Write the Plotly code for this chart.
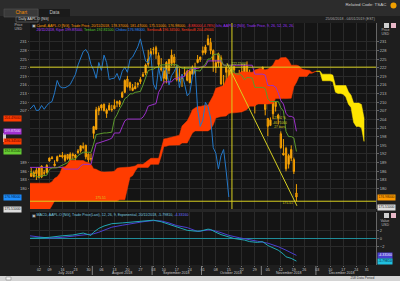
import plotly.graph_objects as go
import pandas as pd

W, H = 400, 281

# ---------------- data ----------------
holidays = ["2018-07-04", "2018-09-03", "2018-11-22", "2018-12-25", "2019-01-01"]
days = [d for d in pd.bdate_range("2018-06-25", "2019-01-04")
        if d.strftime("%Y-%m-%d") not in holidays]

opens = [183.40, 182.99, 185.23, 184.10, 186.29, 183.82, 187.79, 185.26, 185.42, 189.50,
         190.71, 188.50, 189.53, 191.08, 191.52, 189.75, 191.78, 189.69, 191.78, 190.68,
         192.45, 193.06, 194.61, 194.99, 191.90, 190.30, 199.13, 200.58, 207.03, 208.00,
         209.32, 206.05, 207.28, 207.36, 207.70, 210.16, 209.22, 211.75, 213.44, 218.10,
         216.80, 214.10, 214.65, 216.60, 217.15, 219.01, 220.15, 223.25, 226.51, 228.41,
         228.99, 226.23, 221.85, 220.95, 218.01, 224.94, 223.52, 225.75, 222.15, 217.79,
         218.50, 220.24, 220.78, 216.82, 219.75, 221.00, 223.82, 224.79, 227.95, 227.25,
         230.05, 230.78, 227.96, 222.21, 223.64, 225.46, 214.52, 220.42, 221.16, 218.93,
         222.30, 217.86, 218.06, 219.79, 215.83, 222.60, 217.71, 215.90, 219.19, 211.15,
         216.88, 219.05, 209.55, 204.30, 201.92, 205.97, 209.98, 205.55, 199.00, 191.63,
         193.90, 188.39, 190.50, 190.00, 178.37]
highs = [184.92, 186.53, 187.28, 186.21, 187.19, 187.30, 187.95, 186.41, 188.43, 190.68,
         191.28, 189.78, 191.41, 191.84, 192.65, 191.87, 191.80, 192.55, 192.43, 191.96,
         193.66, 194.85, 195.96, 195.19, 192.20, 192.14, 201.76, 208.38, 208.74, 209.25,
         209.50, 207.81, 209.78, 209.10, 210.95, 210.56, 210.74, 213.81, 217.95, 219.18,
         217.19, 216.36, 217.05, 216.90, 218.74, 220.54, 223.49, 228.26, 228.87, 229.18,
         229.67, 227.35, 225.37, 221.85, 224.30, 225.00, 228.35, 226.84, 222.95, 221.85,
         219.62, 222.28, 221.36, 221.26, 222.82, 223.75, 226.44, 225.84, 229.42, 230.00,
         233.47, 232.35, 228.41, 224.80, 227.27, 226.35, 219.50, 222.88, 221.83, 222.99,
         222.64, 219.74, 221.26, 223.36, 223.25, 224.23, 221.38, 220.19, 219.69, 215.18,
         220.45, 222.36, 213.65, 204.39, 204.72, 210.06, 210.12, 206.01, 199.85, 197.18,
         194.48, 191.97, 194.97, 190.70, 181.47]
lows = [180.73, 182.54, 184.03, 183.80, 182.91, 183.42, 183.54, 184.28, 185.20, 189.30,
        190.18, 187.61, 189.31, 190.90, 190.42, 189.20, 189.93, 189.69, 190.17, 189.56,
        192.05, 192.43, 193.61, 190.10, 189.07, 189.34, 197.31, 200.35, 205.48, 207.07,
        206.76, 204.52, 207.20, 206.67, 207.70, 208.26, 208.33, 211.47, 213.16, 215.11,
        214.03, 213.84, 214.60, 215.11, 216.33, 218.92, 219.41, 222.40, 226.00, 226.63,
        225.10, 221.30, 220.71, 216.47, 216.56, 219.84, 222.57, 222.52, 217.27, 217.12,
        215.30, 219.15, 217.29, 216.63, 219.70, 219.76, 223.54, 224.02, 226.35, 226.63,
        229.78, 226.73, 220.58, 220.20, 222.25, 216.05, 212.32, 216.84, 217.27, 216.76,
        219.34, 213.00, 217.43, 218.94, 214.70, 214.54, 216.75, 212.67, 206.09, 209.27,
        216.62, 216.81, 205.43, 198.17, 201.69, 204.13, 206.75, 202.25, 193.79, 191.45,
        185.93, 186.90, 189.46, 184.99, 175.51]
closes = [182.17, 184.43, 184.16, 185.50, 185.11, 187.18, 183.92, 185.40, 187.97, 190.58,
          190.35, 187.88, 191.03, 191.33, 190.91, 191.45, 190.40, 191.88, 191.44, 191.61,
          193.00, 194.82, 194.21, 190.98, 189.91, 190.29, 201.50, 207.39, 207.99, 209.07,
          207.11, 207.25, 208.88, 207.53, 208.87, 209.75, 210.24, 213.32, 217.58, 215.46,
          215.04, 215.05, 215.49, 216.16, 217.94, 219.70, 222.98, 225.03, 227.63, 228.36,
          226.87, 223.10, 221.30, 218.33, 223.85, 221.07, 226.41, 223.84, 217.88, 218.24,
          218.37, 220.03, 217.66, 220.79, 222.19, 220.42, 224.95, 225.74, 227.26, 229.28,
          232.07, 227.99, 224.29, 223.77, 226.87, 216.36, 214.45, 222.11, 217.36, 222.15,
          221.19, 216.02, 219.31, 220.65, 222.73, 215.09, 219.80, 216.30, 212.24, 213.30,
          218.86, 222.22, 207.48, 201.59, 203.77, 209.95, 208.49, 204.47, 194.17, 192.23,
          186.80, 191.41, 193.53, 185.86, 176.98]

tenkan = [186.80, 186.15, 185.45, 184.98, 184.00, 184.00, 184.34, 184.34, 184.58, 186.61,
          187.10, 187.10, 187.16, 187.63, 188.10, 188.47, 188.93, 190.13, 190.13, 190.13,
          191.43, 192.03, 192.58, 192.58, 192.52, 192.52, 195.42, 198.73, 198.91, 199.16,
          199.29, 199.29, 199.43, 199.56, 204.13, 205.65, 207.74, 209.17, 211.24, 211.85,
          212.93, 212.93, 213.44, 213.72, 213.76, 216.01, 218.33, 221.05, 221.36, 221.51,
          222.14, 222.39, 223.00, 223.07, 223.07, 223.07, 223.07, 223.07, 223.07, 222.41,
          221.83, 221.83, 221.83, 221.83, 221.83, 221.07, 220.87, 220.87, 222.36, 223.32,
          225.05, 225.05, 226.59, 226.62, 226.84, 224.76, 222.90, 222.90, 222.90, 222.34,
          220.37, 219.80, 219.80, 219.34, 217.84, 218.62, 218.62, 218.45, 215.16, 215.16,
          215.16, 215.16, 214.83, 211.20, 210.27, 210.27, 210.27, 210.27, 208.08, 206.91,
          199.79, 198.03, 198.03, 197.56, 192.82]
kijun = [187.30, 187.30, 187.30, 187.30, 187.30, 187.30, 187.30, 187.30, 187.30, 187.30,
         187.30, 187.30, 187.30, 187.30, 187.30, 186.70, 186.70, 186.70, 186.70, 186.70,
         186.70, 187.79, 188.35, 188.35, 188.35, 188.35, 192.15, 195.65, 195.83, 196.08,
         196.46, 196.52, 197.03, 197.49, 199.28, 199.28, 199.28, 201.44, 203.51, 204.13,
         204.13, 204.13, 204.13, 204.13, 204.13, 204.81, 206.28, 208.67, 208.97, 209.13,
         209.51, 213.49, 215.01, 217.10, 217.10, 217.10, 217.10, 218.17, 218.17, 218.69,
         218.97, 219.00, 220.57, 221.42, 221.76, 221.76, 221.76, 222.14, 222.39, 222.65,
         224.39, 224.39, 224.39, 224.39, 224.39, 224.39, 222.90, 222.90, 222.90, 222.90,
         222.90, 222.90, 222.90, 222.90, 222.90, 222.90, 222.90, 222.90, 219.78, 219.78,
         219.78, 219.78, 219.45, 215.82, 215.82, 215.82, 215.26, 213.29, 210.53, 209.36,
         206.14, 205.08, 205.08, 204.61, 199.87]
senkou_a = [181.80, 181.80, 181.80, 181.80, 181.80, 181.80, 181.80, 181.80, 181.80, 181.80,
            182.30, 183.50, 184.00, 185.20, 187.40, 187.50, 188.40, 189.80, 189.80, 189.70,
            189.70, 189.70, 189.70, 189.20, 189.00, 188.40, 186.85, 186.65, 186.15, 185.75,
            185.65, 185.65, 185.80, 185.80, 185.94, 186.96, 187.20, 187.20, 187.23, 187.17,
            187.40, 187.59, 187.80, 188.40, 188.40, 188.40, 189.07, 189.91, 190.47, 190.47,
            190.44, 190.44, 193.79, 197.19, 197.37, 197.62, 197.88, 197.91, 198.23, 198.53,
            201.71, 202.47, 203.51, 205.31, 207.38, 207.99, 208.53, 208.53, 208.79, 208.93,
            208.95, 210.41, 212.31, 214.86, 215.17, 215.32, 215.83, 217.94, 219.01, 220.09,
            220.09, 220.09, 220.09, 220.62, 220.62, 220.55, 220.40, 220.42, 221.20, 221.63,
            221.80, 221.42, 221.32, 221.51, 222.38, 222.99, 224.72, 224.72, 225.49, 225.51,
            225.62, 224.58, 222.90, 222.90, 222.90, 222.62, 221.64, 221.35, 221.35, 221.12,
            220.37, 220.76, 220.76, 220.68, 217.47, 217.47, 217.47, 217.47, 217.14, 213.51,
            213.05, 213.05, 212.77, 211.78, 209.31, 208.14, 202.97, 201.56, 201.56, 201.09,
            196.35]
senkou_b = [172.50, 172.50, 172.50, 172.50, 172.50, 172.50, 172.50, 172.50, 172.50, 172.50,
            174.00, 175.60, 175.60, 175.60, 175.60, 175.60, 175.60, 175.60, 175.60, 175.60,
            175.60, 175.60, 175.60, 175.60, 175.60, 175.60, 175.60, 175.60, 175.60, 175.60,
            175.60, 175.60, 175.60, 175.60, 175.60, 175.60, 176.00, 176.00, 176.00, 180.20,
            183.90, 184.40, 186.00, 187.30, 187.30, 187.30, 187.30, 187.30, 188.35, 188.35,
            188.35, 188.35, 191.20, 194.60, 194.70, 195.00, 195.10, 195.10, 195.10, 195.10,
            195.80, 195.80, 195.80, 197.30, 199.30, 200.00, 200.00, 200.00, 200.00, 200.00,
            200.00, 200.60, 202.10, 204.50, 204.80, 205.00, 205.20, 205.20, 206.11, 206.29,
            206.29, 206.29, 206.55, 206.61, 206.98, 207.44, 208.64, 208.64, 208.64, 209.37,
            209.37, 209.37, 209.37, 209.37, 209.37, 209.54, 211.27, 211.27, 211.27, 211.27,
            211.27, 211.27, 211.41, 215.39, 216.91, 219.00, 219.00, 219.00, 219.00, 220.07,
            220.07, 220.59, 220.87, 220.90, 219.78, 219.78, 219.78, 219.78, 219.45, 215.82,
            215.82, 215.82, 215.82, 215.82, 213.63, 212.46, 209.70, 209.70, 209.70, 209.23,
            204.49]
chikou_shift = 26

macd_k = [0, 5, 9, 14, 18, 22, 24, 25, 26, 28, 30, 33, 37, 41, 45, 49, 52, 54, 58, 62,
          65, 67, 70, 71, 73, 75, 78, 80, 84, 86, 89, 91, 93, 96, 97, 99, 100, 102, 104]
macd_v = [0.0, 0.1, 0.3, 0.7, 0.9, 1.4, 0.9, 0.8, 1.6, 2.6, 3.2, 3.8, 4.0, 4.2, 4.4, 4.7,
          4.3, 3.9, 2.9, 2.1, 1.9, 1.9, 2.4, 2.3, 1.6, 1.0, 0.4, 0.0, -0.4, -0.8, -1.0, -0.8,
          -1.8, -2.6, -3.0, -4.0, -4.7, -5.1, -5.8]
signal_k = [0, 5, 9, 14, 18, 22, 26, 28, 33, 37, 41, 45, 49, 52, 55, 58, 62, 66, 70, 72,
            75, 78, 82, 86, 89, 93, 97, 100, 104]
signal_v = [0.8, 0.4, 0.1, 0.3, 0.6, 0.9, 1.2, 1.6, 2.9, 3.4, 3.9, 4.3, 4.6, 4.5, 4.0,
            3.3, 2.8, 1.8, 2.2, 2.1, 1.5, 0.8, 0.2, -0.4, -0.7, -1.2, -2.1, -3.0, -4.33]

price_ticks = [174, 177, 180, 183, 186, 189, 192, 195, 198, 201, 204, 207, 210, 213, 216,
               219, 222, 225, 228, 231]
macd_ticks = [-2, 0, 2]
hline_hi = 222.22
hline_lo = 175.51
months = ["July 2018", "August 2018", "September 2018", "October 2018",
          "November 2018", "December 2018"]

# ---------------- styling ----------------
XL, XR = 1.54, 134.6
YL, YH = 172.8, 237.6
GRID = "#2a2a2a"
FONT = "Liberation Sans, Arial, sans-serif"
RED, YEL = "#ff3c00", "#ffe600"


def px(x):
    return x / W


def py(y):
    return 1 - y / H


k_price = list(range(len(closes)))
k_cloud = list(range(len(senkou_a)))

fig = go.Figure()


def cloud_polys(xs, a, b):
    polys = []
    cx, ca, cb = [xs[0]], [a[0]], [b[0]]
    sign = a[0] >= b[0]
    for i in range(1, len(xs)):
        s = a[i] >= b[i]
        if s != sign:
            d0 = a[i - 1] - b[i - 1]
            d1 = a[i] - b[i]
            t = d0 / (d0 - d1)
            xc = xs[i - 1] + t * (xs[i] - xs[i - 1])
            yc = a[i - 1] + t * (a[i] - a[i - 1])
            cx.append(xc); ca.append(yc); cb.append(yc)
            polys.append((sign, cx, ca, cb))
            cx, ca, cb = [xc], [yc], [yc]
            sign = s
        cx.append(xs[i]); ca.append(a[i]); cb.append(b[i])
    polys.append((sign, cx, ca, cb))
    return polys


for sign, cx, ca, cb in cloud_polys(k_cloud, senkou_a, senkou_b):
    col = RED if sign else YEL
    fig.add_trace(go.Scatter(x=cx + cx[::-1], y=ca + cb[::-1], fill="toself",
                             fillcolor=col, line=dict(color=col, width=0.5),
                             mode="lines", hoverinfo="skip", xaxis="x", yaxis="y"))

fig.add_trace(go.Scatter(x=k_price[:len(closes) - chikou_shift], y=closes[chikou_shift:],
                         mode="lines", line=dict(color="#2378c8", width=1),
                         xaxis="x", yaxis="y"))
fig.add_trace(go.Scatter(x=k_price, y=kijun, mode="lines",
                         line=dict(color="#9a30c8", width=1), xaxis="x", yaxis="y"))
fig.add_trace(go.Scatter(x=k_price, y=tenkan, mode="lines",
                         line=dict(color="#5c9a2c", width=1), xaxis="x", yaxis="y"))

fig.add_trace(go.Candlestick(x=k_price, open=opens, high=highs, low=lows, close=closes,
                             increasing=dict(line=dict(color="#f5a000", width=1), fillcolor="#ffb84a"),
                             decreasing=dict(line=dict(color="#f5a000", width=1), fillcolor="#d07000"),
                             whiskerwidth=0, xaxis="x", yaxis="y"))
fig.add_trace(go.Scatter(x=[k_price[0]], y=[closes[0]], mode="markers",
                         marker=dict(opacity=0), hoverinfo="skip", xaxis="x", yaxis="y3"))

fig.add_trace(go.Scatter(x=[XL, XR], y=[0, 0], mode="lines",
                         line=dict(color="#1f8c99", width=1), xaxis="x2", yaxis="y2"))
fig.add_trace(go.Scatter(x=signal_k, y=signal_v, mode="lines",
                         line=dict(color="#4b3fd0", width=1), xaxis="x2", yaxis="y2"))
fig.add_trace(go.Scatter(x=macd_k, y=macd_v, mode="lines",
                         line=dict(color="#20a8b4", width=1), xaxis="x2", yaxis="y2"))

tick_k, tick_t = [], []
for m in pd.date_range("2018-07-02", "2018-12-31", freq="W-MON"):
    k = next(i for i, d in enumerate(days) if d >= m)
    tick_k.append(k)
    tick_t.append(f"{m.day:02d}")

shapes = []
annotations = []


def rect(x0, y0, x1, y1, fill, line=None):
    shapes.append(dict(type="rect", xref="paper", yref="paper", x0=px(x0), x1=px(x1),
                       y0=py(y1), y1=py(y0), fillcolor=fill,
                       line=dict(color=line or fill, width=0.6 if line else 0), layer="below"))


def text(x, y, t, size=4.2, color="#c8c8c8", xa="left", bg=None, xref="paper", yref="paper"):
    annotations.append(dict(x=px(x) if xref == "paper" else x,
                            y=py(y) if yref == "paper" else y,
                            xref=xref, yref=yref, text=t, showarrow=False, xanchor=xa,
                            yanchor="middle", font=dict(size=size, color=color, family=FONT),
                            bgcolor=bg, borderpad=0.4))


rect(0, 0, 400, 16, "#2c2c2c")
rect(4, 9, 38, 17, "#3a3a3a", "#555555")
rect(39, 9, 70, 17, "#1a1a1a")
text(21, 13, "Chart", 4.8, "#f08a00", "center")
text(54, 13, "Data", 4.8, "#bbbbbb", "center")
text(388, 5.5, "Related Code: TSAC", 4.4, "#cfcfcf", "right")
shapes.append(dict(type="circle", xref="paper", yref="paper", x0=px(390.5), x1=px(396.5),
                   y0=py(8.5), y1=py(2.5), fillcolor="#f0a000", line=dict(width=0)))
rect(16, 17, 38, 22, "#1e1e1e", "#777777")
text(17, 19.5, "Daily AAPL.O [NG]", 3.6, "#dddddd")
text(376, 19, "25/06/2018 - 04/01/2019 (EST)", 3.6, "#aaaaaa", "right")
rect(0, 276, 400, 281, "#d4d4d4")
rect(6, 277, 11, 280, "#f4f4f4", "#888888")
text(376, 278.5, "258 Data Period", 3.3, "#333333", "right")
rect(3, 133, 6, 142, "#d0d0d0")
rect(30, 209, 376, 212, "#262626")

for yy in (22, 212):
    rect(384, yy + 1, 389, yy + 6, "#cfcfcf")
    rect(391, yy + 1, 396, yy + 6, "#e8b8c8")

text(30.5, 26, "▣", 4, "#bbbbbb")
text(35, 26, "<span style='color:#ff9a00'>Candl, AAPL.O [NG], Trade Price, 20/11/2018, "
             "178.37000, 181.47000, 175.51000, 176.98000, </span>"
             "<span style='color:#ff3030'>-8.88000(-4.78%)</span> "
             "<span style='color:#a030ff'>Ichi, AAPL.O [NG], Trade Price, 9, 26, 52, 26, 26,</span>",
     3.6)
text(35, 31, "<span style='color:#b040ff'>20/11/2018, Kijun 199.87000,</span> "
             "<span style='color:#55cc33'>Tenkan 192.81500,</span> "
             "<span style='color:#2f8fff'>Chikou 176.98000,</span> "
             "<span style='color:#ff3c1c'>SenkouA 196.34500, SenkouB 204.49000</span>", 3.6)
text(30.5, 215.5, "▣", 4, "#bbbbbb")
text(35, 215.5, "<span style='color:#7fd0e0'>MACD, AAPL.O [NG], Trade Price(Last), 12, 26, 9, "
                "Exponential, 20/11/2018, -5.79810,</span> "
                "<span style='color:#7070ff'>-4.33160</span>", 3.6)
text(18, 25.5, "Price", 3.6, "#bbbbbb", "center")
text(18, 29.5, "USD", 3.6, "#bbbbbb", "center")
text(385, 30.5, "Price", 3.6, "#bbbbbb", "center")
text(385, 34.5, "USD", 3.6, "#bbbbbb", "center")
text(385, 221, "Value", 3.6, "#bbbbbb", "center")
text(385, 225, "USD", 3.6, "#bbbbbb", "center")

left_tags = [(senkou_b[-1], "#ff3c00", "#5a0000", "204.49000"),
             (kijun[-1], "#a030d0", "#f0e0ff", "199.87000"),
             (senkou_a[-1], "#ff3c00", "#5a0000", "196.34500"),
             (tenkan[-1], "#66cc33", "#123300", "192.81500"),
             (closes[-1], "#1e8fff", "#001a40", "176.98000")]
for val, bg, fc, lab in left_tags:
    text(3, val, lab, 3.4, fc, "left", bg, "paper", "y")
text(3, 209.5, "175.51000", 3.4, "#222222", "left", "#dddddd")
text(377, closes[-1], "176.98000", 3.4, "#3a2000", "left", "#ff9a00", "paper", "y")
text(377, 207.5, "175.51000", 3.4, "#222222", "left", "#dddddd")
text(377, -4.33, "-4.33160", 3.4, "#ffffff", "left", "#4b3fd0", "paper", "y2")
text(377, -5.80, "-5.79810", 3.4, "#002030", "left", "#20c0e0", "paper", "y2")

left_ticks = [t for t in price_ticks if all(abs(t - v) > 1.7 for v, *_ in left_tags) and t > 175]
right_ticks = [t for t in price_ticks if t > 178]

LY = "#d8d020"
for val in (hline_hi, hline_lo):
    shapes.append(dict(type="line", xref="x", yref="y", x0=XL, x1=XR, y0=val, y1=val,
                       line=dict(color=LY, width=1)))
shapes.append(dict(type="line", xref="x", yref="paper", x0=79.2, x1=79.2,
                   y0=py(209), y1=py(23), line=dict(color=LY, width=1)))
shapes.append(dict(type="line", xref="x", yref="y", x0=77.3, x1=104.2, y0=223.6, y1=173.9,
                   line=dict(color=LY, width=1)))
text(78.5, 223.3, "222.22000", 3.2, "#c8e040", "left", None, "x", "y")
text(97.5, 203.0, "-21.02 %<br>-46.71000<br>27 bars", 3.2, LY, "center", None, "x", "y")
text(26, hline_lo + 0.9, "175.51", 3.4, LY, "left", None, "x", "y")
text(100.5, hline_lo - 0.9, "175.51", 3.4, LY, "center", None, "x", "y")

for mi, name in enumerate(months):
    ks = [i for i, d in enumerate(days) if d.month == 7 + mi and d.year == 2018
          and XL <= i <= XR]
    if not ks:
        continue
    annotations.append(dict(x=(ks[0] + ks[-1]) / 2, y=py(273.3), xref="x2", yref="paper",
                            text=name, showarrow=False, yanchor="middle",
                            font=dict(size=3.6, color="#c8c8c8", family=FONT)))
    if mi > 0:
        shapes.append(dict(type="line", xref="x2", yref="paper", x0=ks[0] - 0.5,
                           x1=ks[0] - 0.5, y0=py(275), y1=py(266),
                           line=dict(color="#9a9a9a", width=0.8)))

axis_common = dict(showgrid=True, gridcolor=GRID, gridwidth=1, zeroline=False)
fig.update_layout(
    width=W, height=H, margin=dict(l=0, r=0, t=0, b=0),
    paper_bgcolor="#1e1e1e", plot_bgcolor="#141414", showlegend=False,
    font=dict(family=FONT, size=5, color="#c8c8c8"),
    xaxis=dict(domain=[px(30), px(376)], range=[XL, XR], anchor="y", showticklabels=False,
               tickvals=tick_k, ticks="", rangeslider=dict(visible=False), **axis_common),
    yaxis=dict(domain=[py(209), py(23)], range=[YL, YH], side="right", anchor="x",
               tickvals=right_ticks, tickfont=dict(size=4.0, color="#bdbdbd"),
               showline=True, linecolor="#666666", linewidth=1, ticks="outside",
               ticklen=2, tickcolor="#666666", **axis_common),
    yaxis3=dict(overlaying="y", side="left", anchor="x", range=[YL, YH],
                tickvals=left_ticks, tickfont=dict(size=4.0, color="#bdbdbd"),
                showgrid=False, zeroline=False, ticks="outside", ticklen=1.5,
                tickcolor="#555555"),
    xaxis2=dict(domain=[px(30), px(376)], range=[XL, XR], anchor="y2", tickvals=tick_k,
                ticktext=tick_t, tickfont=dict(size=3.6, color="#c8c8c8"), ticks="outside",
                ticklen=1, tickcolor="#777777", **axis_common),
    yaxis2=dict(domain=[py(265), py(212)], range=[-6.8, 6.8], side="right", anchor="x2",
                tickvals=macd_ticks, tickfont=dict(size=4.0, color="#bdbdbd"),
                showline=True, linecolor="#666666", ticks="outside", ticklen=2,
                tickcolor="#666666", **axis_common),
    shapes=shapes, annotations=annotations,
)

fig.write_html("out.html")
